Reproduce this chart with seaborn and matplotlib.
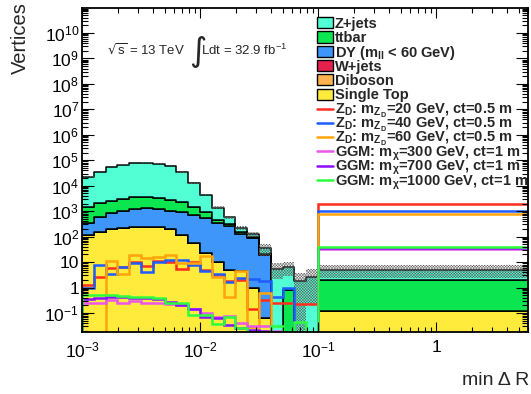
import numpy as np
import pandas as pd
import matplotlib
matplotlib.use("Agg")
import matplotlib.pyplot as plt
from matplotlib.ticker import LogLocator, FuncFormatter, NullFormatter
from matplotlib.patches import Rectangle
from matplotlib.lines import Line2D
import seaborn as sns

sns.set_style("ticks")
plt.rcParams["font.family"] = ["Liberation Sans", "DejaVu Sans"]
plt.rcParams["mathtext.default"] = "regular"
plt.rcParams["hatch.linewidth"] = 0.35
plt.rcParams["hatch.color"] = "#5e5e5e"

# ---- binning in min dR: 0.1-decade bins up to 0.1, then one wide bin ----
bin_edges = [0.001, 0.001259, 0.001585, 0.001995, 0.002512, 0.003162,
             0.003981, 0.005012, 0.00631, 0.007943, 0.01, 0.01259,
             0.01585, 0.01995, 0.02512, 0.03162, 0.03981, 0.05012,
             0.0631, 0.07943, 0.1, 10.0]

# ---- backgrounds (vertices per bin) ----
zjets = [21500, 33400, 49900, 64600, 75900, 77700, 70900, 54800, 30800, 11100,
         3470, 930, 273, 73, 33, 13.8, 5.6, 5.5, 1.86, 2.7, 3.0]
ttbar = [1082, 1467, 1738, 1973, 2373, 2260, 2061, 1707, 1336, 737,
         329, 92, 39, 19, 4.0, 2.3, 0, 0.8, 0, 0, 1.86]
dy = [216, 420, 632, 823, 930, 1043, 946, 847, 843, 652,
      539, 345, 258, 127, 88, 18.5, 0, 0, 0, 0, 0]
wjets = [0] * 21
diboson = [0] * 21
single_top = [115, 155, 200, 224, 245, 245, 229, 200, 112, 56,
              23, 10, 4.9, 4.5, 0.95, 0.063, 0, 0, 0, 0, 0.12]
bkg_unc = [400, 500, 600, 700, 800, 800, 800, 700, 600, 400,
           220, 165, 90, 47, 27, 17, 3.5, 3.5, 2.0, 2.5, 2.7]

# ---- signals ----
zd20 = [1.25, 2.5, 5.7, 6.2, 10.0, 7.0, 11.0, 10.5, 5.5, 10.5,
        4.9, 3.1, 1.85, 2.0, 0.15, 0.32, 0.24, 0.24, 0.22, 0.22, 2000]
zd40 = [1.0, 7.7, 3.4, 6.2, 9.5, 4.2, 10.5, 12, 12, 8,
        4.5, 3.5, 1.7, 2.3, 2.2, 1.8, 0.44, 1.0, 0, 0, 980]
zd60 = [0, 0, 11.4, 3.5, 19, 14.5, 15.5, 19, 9, 9,
        17, 2.7, 0.44, 4.5, 0.029, 0.63, 0, 0, 0, 0, 740]
ggm300 = [0.25, 0.25, 0.33, 0.25, 0.30, 0.25, 0.25, 0.22, 0.20, 0.14,
          0.10, 0.07, 0.08, 0.04, 0.03, 0.03, 0.02, 0, 0, 0, 32]
ggm700 = [0.34, 0.40, 0.42, 0.42, 0.40, 0.38, 0.35, 0.27, 0.21, 0.15,
          0.072, 0.062, 0.034, 0.025, 0.022, 0.02, 0, 0, 0, 0, 36]
ggm1000 = [0.51, 0.52, 0.51, 0.47, 0.43, 0.41, 0.38, 0.24, 0.24, 0.083,
           0.083, 0.037, 0.072, 0.025, 0, 0, 0.032, 0, 0.043, 0, 40]

stack_keys = ["Z+jets", "ttbar", "DY", "W+jets", "Diboson", "Single Top"]
stack_values = [zjets, ttbar, dy, wjets, diboson, single_top]
stack_labels = ["Z+jets", "ttbar", "DY (m$_{ll}$ < 60 GeV)", "W+jets",
                "Diboson", "Single Top"]
stack_colors = {"Z+jets": "#52ffd4", "ttbar": "#0be650", "DY": "#3f96fa",
                "W+jets": "#e3214c", "Diboson": "#ffb24f",
                "Single Top": "#ffeb3c"}

signal_values = [zd20, zd40, zd60, ggm300, ggm700, ggm1000]
signal_labels = ["Z$_D$: m$_{Z_D}$=20 GeV, ct=0.5 m",
                 "Z$_D$: m$_{Z_D}$=40 GeV, ct=0.5 m",
                 "Z$_D$: m$_{Z_D}$=60 GeV, ct=0.5 m",
                 "GGM: m$_{\\chi}$=300 GeV, ct=1 m",
                 "GGM: m$_{\\chi}$=700 GeV, ct=1 m",
                 "GGM: m$_{\\chi}$=1000 GeV, ct=1 m"]
signal_colors = ["#ff2d1e", "#1d5cff", "#ffa40a", "#ec55ec", "#8a10ff",
                 "#2cff3c"]

edges = np.array(bin_edges)
centers = np.sqrt(edges[:-1] * edges[1:])

rows = []
for key, vals in zip(stack_keys, stack_values):
    for c, v in zip(centers, vals):
        rows.append({"min_dr": c, "events": v, "process": key})
df = pd.DataFrame(rows)

W, H = 531, 394
fig = plt.figure(figsize=(W / 100, H / 100), dpi=100)
ax = fig.add_axes([82 / W, 1 - 332 / H, (528 - 82) / W, (332 - 8) / H])

# stacked background histogram
sns.histplot(data=df, x="min_dr", weights="events", hue="process",
             hue_order=stack_keys, multiple="stack", bins=bin_edges,
             element="step", fill=True, palette=stack_colors,
             edgecolor="black", linewidth=1.1, alpha=1, legend=False, ax=ax)

# total background uncertainty band
total = np.sum(np.array(stack_values, dtype=float), axis=0)
unc = np.array(bkg_unc, dtype=float)
lo = np.clip(total - unc, 1e-4, None)
hi = total + unc
ax.fill_between(edges, np.append(lo, lo[-1]), np.append(hi, hi[-1]),
                step="post", facecolor="none", edgecolor="#5e5e5e",
                hatch="xxxxxxxxxxxx", linewidth=0, zorder=1.6)

# signal overlays
for vals, col in zip(signal_values, signal_colors):
    ax.stairs(vals, edges, baseline=0, color=col, linewidth=1.8, zorder=2)

ax.set_xscale("log")
ax.set_yscale("log")
ax.set_xlim(1e-3, 6.0)
ax.set_ylim(0.018, 9.5e10)
ax.set_xlabel("")
ax.set_ylabel("")


def pow_label(v, pos):
    e = int(round(np.log10(v)))
    if e == 0:
        return "1"
    if e == 1:
        return "10"
    return "$10^{%d}$" % e


ax.xaxis.set_major_locator(LogLocator(base=10, numticks=20))
ax.xaxis.set_minor_locator(LogLocator(base=10, subs=np.arange(2, 10), numticks=100))
ax.yaxis.set_major_locator(LogLocator(base=10, numticks=40))
ax.yaxis.set_minor_locator(LogLocator(base=10, subs=np.arange(2, 10), numticks=400))
ax.xaxis.set_major_formatter(FuncFormatter(pow_label))
ax.yaxis.set_major_formatter(FuncFormatter(pow_label))
ax.xaxis.set_minor_formatter(NullFormatter())
ax.yaxis.set_minor_formatter(NullFormatter())

ax.tick_params(axis="both", which="both", direction="in", top=True,
               right=True, width=0.8, colors="black", labelsize=12.5)
ax.tick_params(axis="x", which="major", length=7.5, pad=6)
ax.tick_params(axis="x", which="minor", length=3.8)
ax.tick_params(axis="y", which="major", length=8.5, pad=2)
ax.tick_params(axis="y", which="minor", length=4.3)
ax.set_axisbelow(False)
for sp in ax.spines.values():
    sp.set_linewidth(1.3)
    sp.set_color("black")
    sp.set_zorder(5)

# axis titles
fig.text(20 / W, 1 - 2 / H, "Vertices", rotation=90, ha="center", va="top",
         fontsize=14.5)
fig.text(529 / W, 1 - 385 / H, "min \u0394 R", ha="right", va="baseline",
         fontsize=14)

# run information
fig.text(107 / W, 1 - 55 / H, "$\\sqrt{s}$ = 13 TeV", fontsize=9.5,
         va="baseline")
fig.text(189 / W, 1 - 51 / H, "\u222b", fontsize=24, va="center",
         family=["DejaVu Sans"])
fig.text(201 / W, 1 - 55 / H, "Ldt = 32.9 fb$^{-1}$", fontsize=9.5,
         va="baseline")

# legend
row0, step = 22.7, 14.3
labels_all = stack_labels + signal_labels
for k, lab in enumerate(labels_all):
    yc = row0 + step * k
    if k < len(stack_keys):
        fig.patches.append(Rectangle((317 / W, 1 - (yc + 5.5) / H), 16 / W, 11 / H,
                                     transform=fig.transFigure,
                                     facecolor=stack_colors[stack_keys[k]],
                                     edgecolor="black", linewidth=1.0))
    else:
        col = signal_colors[k - len(stack_keys)]
        fig.lines.append(Line2D([317 / W, 333 / W], [1 - yc / H, 1 - yc / H],
                                transform=fig.transFigure, color=col,
                                linewidth=1.8))
    fig.text(335 / W, 1 - (yc + 5.2) / H, lab, fontsize=10.5,
             fontweight="bold", va="baseline", ha="left")

fig.savefig("out.png", dpi=100)
